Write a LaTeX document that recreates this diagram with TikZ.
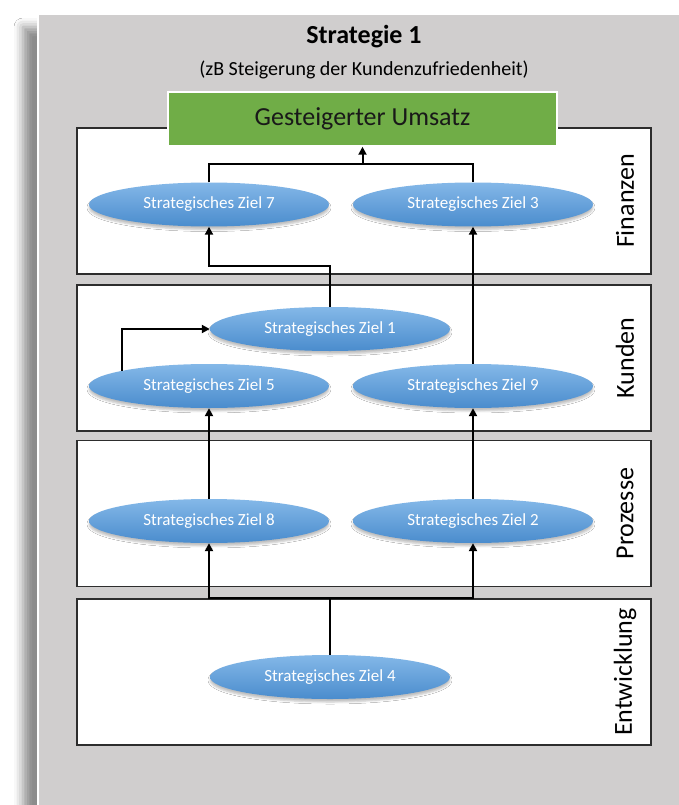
\documentclass[tikz,border=0pt]{standalone}
\usepackage{fontspec}
\setmainfont{Carlito}
\usetikzlibrary{shapes.geometric,shadows.blur,arrows.meta,calc}

\definecolor{panelgrau}{RGB}{208,206,206}
\definecolor{umsatzgruen}{RGB}{112,173,71}
\definecolor{zielblau}{RGB}{88,152,212}
\definecolor{zielhell}{RGB}{132,184,232}
\definecolor{zieldunkel}{RGB}{74,140,205}
\definecolor{rahmen}{RGB}{45,45,45}

\tikzset{
  ebene/.style={draw=rahmen, line width=1.4pt, fill=white, minimum width=574pt,
    minimum height=146pt, inner sep=0pt},
  ebenentext/.style={rotate=90, font=\fontsize{26}{30}\selectfont},
  ziel/.style={ellipse, minimum width=240pt, minimum height=44pt, inner sep=0pt,
    top color=zielhell, middle color=zielblau, bottom color=zieldunkel, text=white,
    font=\fontsize{17}{20}\selectfont,
    blur shadow={shadow xshift=0pt, shadow yshift=-3pt, shadow blur radius=2pt, shadow opacity=25}},
  umsatzbox/.style={draw=white, line width=1.5pt, fill=umsatzgruen, minimum width=389pt,
    minimum height=54pt, inner sep=0pt, text=black!90, font=\fontsize{26}{30}\selectfont},
  linie/.style={line width=2pt, black},
  pfeil/.style={line width=2pt, black, -{Triangle[length=8pt,width=8pt]}},
}

\begin{document}
\begin{tikzpicture}[x=1pt, y=-1pt]
  \useasboundingbox (0,0) rectangle (678,805);
  \fill[white] (0,0) rectangle (678,805);

  % panel
  \fill[panelgrau, blur shadow={shadow xshift=-14pt, shadow yshift=-14pt, shadow blur radius=9pt, shadow opacity=45}]
    (37,13) rectangle (700,830);
  \draw[white, line width=1.5pt] (38,830) -- (38,14) -- (700,14);

  \node[font=\bfseries\fontsize{26}{30}\selectfont] (titel) at (364,37) {Strategie 1};
  \node[font=\fontsize{20}{24}\selectfont] (untertitel) at (364,70) {(zB Steigerung der Kundenzufriedenheit)};

  % ebenen
  \node[ebene] (finanzen) at (364,201) {};
  \node[ebene] (kunden) at (364,358) {};
  \node[ebene] (prozesse) at (364,513.5) {};
  \node[ebene] (entwicklung) at (364,672) {};

  \node[ebenentext] (lfinanzen) at (625,201) {Finanzen};
  \node[ebenentext] (lkunden) at (625,358) {Kunden};
  \node[ebenentext] (lprozesse) at (625,513.5) {Prozesse};
  \node[ebenentext] (lentwicklung) at (625,672) {Entwicklung};

  \node[umsatzbox] (umsatz) at (362.5,119) {Gesteigerter Umsatz};

  % ziele
  \node[ziel] (z7) at (209,204.5) {Strategisches Ziel 7};
  \node[ziel] (z3) at (473,204.5) {Strategisches Ziel 3};
  \node[ziel] (z1) at (330,329) {Strategisches Ziel 1};
  \node[ziel] (z5) at (209,386) {Strategisches Ziel 5};
  \node[ziel] (z9) at (473,386) {Strategisches Ziel 9};
  \node[ziel] (z8) at (209,521) {Strategisches Ziel 8};
  \node[ziel] (z2) at (473,521) {Strategisches Ziel 2};
  \node[ziel] (z4) at (330,677) {Strategisches Ziel 4};

  % verbindungen
  \coordinate (knoten4) at (z4.north |- entwicklung.north);
  \draw[linie] (z4.north) -- (knoten4);
  \draw[pfeil] (knoten4) -| (z8.south);
  \draw[pfeil] (knoten4) -| (z2.south);
  \draw[pfeil] (z8.north) -- (z5.south);
  \draw[pfeil] (z2.north) -- (z9.south);
  \draw[pfeil] (z5.170) |- (z1.west);
  \draw[pfeil] (z9.north) -- (z3.south);
  \draw[pfeil] (z1.north) -- ++(0,-41) -| (z7.south);
  \coordinate (sammel) at ($(z7.north)+(0,-18)$);
  \draw[linie] (z7.north) -- (sammel) -| (z3.north);
  \draw[pfeil] (sammel -| umsatz.south) -- (umsatz.south);
\end{tikzpicture}
\end{document}
